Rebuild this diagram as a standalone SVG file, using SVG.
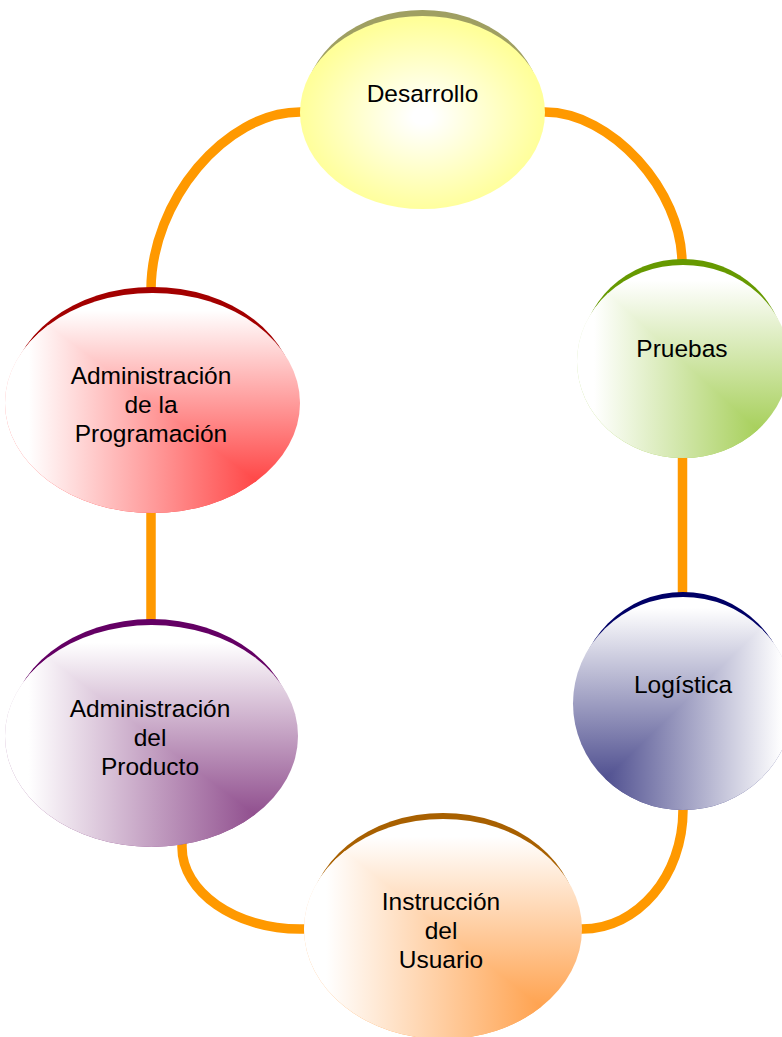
<svg xmlns="http://www.w3.org/2000/svg" width="782" height="1037" viewBox="0 0 782 1037">
<style>
.lbl{font-family:"Liberation Sans",Arial,sans-serif;font-size:24.5px;fill:#000;text-anchor:middle}
.conn{fill:none;stroke:#ff9900;stroke-width:9.5}
</style>
<defs>
<radialGradient id="gDes" cx="0.5" cy="0.52" r="0.5">
<stop offset="0" stop-color="#ffffff"/>
<stop offset="0.08" stop-color="#ffffff"/>
<stop offset="1" stop-color="#ffff99"/>
</radialGradient>
<linearGradient id="gPruV" x1="0" y1="1" x2="0" y2="0"><stop offset="0" stop-color="#a2cd52"/><stop offset="0.1" stop-color="#a2cd52"/><stop offset="0.92" stop-color="#ffffff"/></linearGradient>
<linearGradient id="gPruH" x1="1" y1="0" x2="0" y2="0"><stop offset="0" stop-color="#a2cd52"/><stop offset="0.1" stop-color="#a2cd52"/><stop offset="0.92" stop-color="#ffffff"/></linearGradient>
<linearGradient id="gAPgV" x1="0" y1="1" x2="0" y2="0"><stop offset="0" stop-color="#ff3c3c"/><stop offset="0.1" stop-color="#ff3c3c"/><stop offset="0.92" stop-color="#ffffff"/></linearGradient>
<linearGradient id="gAPgH" x1="1" y1="0" x2="0" y2="0"><stop offset="0" stop-color="#ff3c3c"/><stop offset="0.1" stop-color="#ff3c3c"/><stop offset="0.92" stop-color="#ffffff"/></linearGradient>
<linearGradient id="gLogV" x1="0" y1="1" x2="0" y2="0"><stop offset="0" stop-color="#46468a"/><stop offset="0.1" stop-color="#46468a"/><stop offset="0.95" stop-color="#ffffff"/></linearGradient>
<linearGradient id="gLogH" x1="0" y1="0" x2="1" y2="0"><stop offset="0" stop-color="#46468a"/><stop offset="0.1" stop-color="#46468a"/><stop offset="0.95" stop-color="#ffffff"/></linearGradient>
<linearGradient id="gAPdV" x1="0" y1="1" x2="0" y2="0"><stop offset="0" stop-color="#8a4588"/><stop offset="0.1" stop-color="#8a4588"/><stop offset="0.92" stop-color="#ffffff"/></linearGradient>
<linearGradient id="gAPdH" x1="1" y1="0" x2="0" y2="0"><stop offset="0" stop-color="#8a4588"/><stop offset="0.1" stop-color="#8a4588"/><stop offset="0.92" stop-color="#ffffff"/></linearGradient>
<linearGradient id="gInsV" x1="0" y1="1" x2="0" y2="0"><stop offset="0" stop-color="#ff9d45"/><stop offset="0.1" stop-color="#ff9d45"/><stop offset="0.92" stop-color="#ffffff"/></linearGradient>
<linearGradient id="gInsH" x1="1" y1="0" x2="0" y2="0"><stop offset="0" stop-color="#ff9d45"/><stop offset="0.1" stop-color="#ff9d45"/><stop offset="0.92" stop-color="#ffffff"/></linearGradient>
<clipPath id="cBR" clipPathUnits="objectBoundingBox"><polygon points="0,0 1,1 0,1"/></clipPath>
<clipPath id="cBL" clipPathUnits="objectBoundingBox"><polygon points="1,0 1,1 0,1"/></clipPath>
</defs>

<g id="connectors">
<path class="conn" d="M310,112 L300,112 C225.5,112 151,201 151,290 L151,298"/>
<path class="conn" d="M535,112 L545,112 C610.8,112 682,190 682,263 L682,270"/>
<path class="conn" d="M682.5,450 L682.5,600"/>
<path class="conn" d="M151,505 L151,630"/>
<path class="conn" d="M182,840 L182,847 C182,892 235,929 300,929 L310,929"/>
<path class="conn" d="M683,800 L683,810 C683,875.7 637.8,929 582,929 L572,929"/>
</g>

<g id="node-desarrollo">
<ellipse cx="422.5" cy="106.5" rx="118.5" ry="96.5" fill="#9f9f62"/>
<ellipse cx="422.5" cy="112.5" rx="122.5" ry="96.5" fill="url(#gDes)"/>
<text class="lbl" x="422.5" y="102">Desarrollo</text>
</g>

<g id="node-pruebas">
<ellipse cx="683" cy="355.5" rx="102" ry="96.5" fill="#669900"/>
<ellipse cx="683" cy="361.5" rx="106" ry="96.5" fill="url(#gPruV)"/>
<ellipse cx="683" cy="361.5" rx="106" ry="96.5" fill="url(#gPruH)" clip-path="url(#cBR)"/>
<text class="lbl" x="682" y="357">Pruebas</text>
</g>

<g id="node-admin-programacion">
<ellipse cx="152.5" cy="397" rx="143" ry="110" fill="#a30000"/>
<ellipse cx="152.5" cy="403" rx="147.5" ry="110" fill="url(#gAPgV)"/>
<ellipse cx="152.5" cy="403" rx="147.5" ry="110" fill="url(#gAPgH)" clip-path="url(#cBR)"/>
<text class="lbl" x="151" y="384">Administración</text>
<text class="lbl" x="151" y="413">de la</text>
<text class="lbl" x="151" y="442">Programación</text>
</g>

<g id="node-logistica">
<ellipse cx="683" cy="698.5" rx="106" ry="106.5" fill="#000066"/>
<ellipse cx="683" cy="703.5" rx="110" ry="106.5" fill="url(#gLogV)"/>
<ellipse cx="683" cy="703.5" rx="110" ry="106.5" fill="url(#gLogH)" clip-path="url(#cBL)"/>
<text class="lbl" x="683" y="693">Logística</text>
</g>

<g id="node-admin-producto">
<ellipse cx="151.5" cy="730" rx="142" ry="111" fill="#640064"/>
<ellipse cx="151.5" cy="736" rx="146.5" ry="111" fill="url(#gAPdV)"/>
<ellipse cx="151.5" cy="736" rx="146.5" ry="111" fill="url(#gAPdH)" clip-path="url(#cBR)"/>
<text class="lbl" x="150" y="717">Administración</text>
<text class="lbl" x="150" y="746">del</text>
<text class="lbl" x="150" y="775">Producto</text>
</g>

<g id="node-instruccion">
<ellipse cx="443" cy="923" rx="135" ry="110" fill="#a86000"/>
<ellipse cx="443" cy="929" rx="139" ry="110" fill="url(#gInsV)"/>
<ellipse cx="443" cy="929" rx="139" ry="110" fill="url(#gInsH)" clip-path="url(#cBR)"/>
<text class="lbl" x="441" y="910">Instrucción</text>
<text class="lbl" x="441" y="939">del</text>
<text class="lbl" x="441" y="968">Usuario</text>
</g>
</svg>
